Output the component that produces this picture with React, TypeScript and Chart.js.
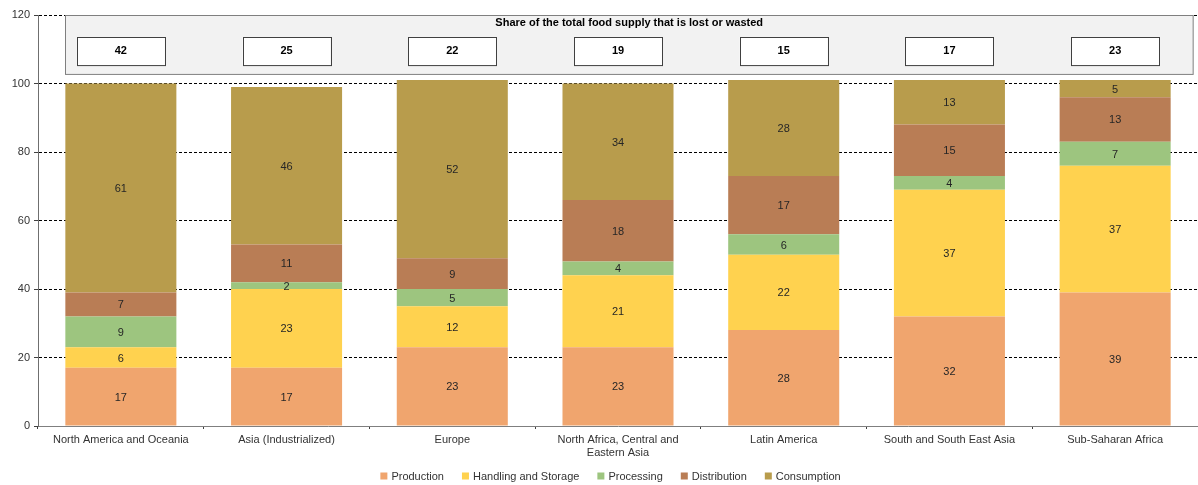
import React, { useEffect, useRef } from "react";
import { Chart, registerables } from "chart.js";

Chart.register(...registerables);

const regions: (string | string[])[] = [
  "North America and Oceania",
  "Asia (Industrialized)",
  "Europe",
  ["North Africa, Central and", "Eastern Asia"],
  "Latin America",
  "South and South East Asia",
  "Sub-Saharan Africa",
];

const production = [17, 17, 23, 23, 28, 32, 39];
const handlingStorage = [6, 23, 12, 21, 22, 37, 37];
const processing = [9, 2, 5, 4, 6, 4, 7];
const distribution = [7, 11, 9, 18, 17, 15, 13];
const consumption = [61, 46, 52, 34, 28, 13, 5];

const shareLost = [42, 25, 22, 19, 15, 17, 23];
const shareTitle = "Share of the total food supply that is lost or wasted";

const FONT = "'Liberation Sans', Arial, sans-serif";

// Values written in the middle of each stacked segment
const segmentLabels = {
  id: "segmentLabels",
  afterDatasetsDraw(chart: any) {
    const ctx = chart.ctx;
    ctx.save();
    ctx.font = `11px ${FONT}`;
    ctx.fillStyle = "#262626";
    ctx.textAlign = "center";
    ctx.textBaseline = "middle";
    chart.data.datasets.forEach((ds: any, di: number) => {
      const meta = chart.getDatasetMeta(di);
      meta.data.forEach((bar: any, i: number) => {
        const v = ds.data[i];
        if (!v) return;
        ctx.fillText(String(v), bar.x, (bar.y + bar.base) / 2 + 1);
      });
    });
    ctx.restore();
  },
};

// Panel above the bars with the share of food supply lost per region
const sharePanel = {
  id: "sharePanel",
  afterDraw(chart: any) {
    const ctx = chart.ctx;
    const x = chart.scales.x;
    const y = chart.scales.y;
    const area = chart.chartArea;
    const first = chart.getDatasetMeta(0).data[0];
    const left = first.x - first.width / 2;
    const right = area.right - 5;
    const top = y.getPixelForValue(120);
    const bottom = y.getPixelForValue(102.8);
    ctx.save();
    ctx.fillStyle = "#F2F2F2";
    ctx.fillRect(left, top, right - left, bottom - top);
    ctx.strokeStyle = "#7F7F7F";
    ctx.lineWidth = 1;
    ctx.strokeRect(Math.round(left) + 0.5, Math.round(top) + 0.5, right - left, bottom - top);

    ctx.font = `bold 11px ${FONT}`;
    ctx.fillStyle = "#000";
    ctx.textAlign = "center";
    ctx.textBaseline = "middle";
    ctx.fillText(shareTitle, (left + right) / 2, top + 8);

    const bTop = y.getPixelForValue(113.6);
    const bBot = y.getPixelForValue(105.4);
    shareLost.forEach((v, i) => {
      const cx = x.getPixelForValue(i);
      const w = 88;
      ctx.fillStyle = "#FFFFFF";
      ctx.fillRect(cx - w / 2, bTop, w, bBot - bTop);
      ctx.strokeStyle = "#404040";
      ctx.strokeRect(Math.round(cx - w / 2) + 0.5, Math.round(bTop) + 0.5, w, bBot - bTop);
      ctx.fillStyle = "#000";
      ctx.fillText(String(v), cx, (bTop + bBot) / 2);
    });
    ctx.restore();
  },
};

// Compact legend under the category labels
const bottomLegend = {
  id: "bottomLegend",
  afterDraw(chart: any) {
    const ctx = chart.ctx;
    const items = chart.data.datasets.map((d: any) => ({
      text: d.label as string,
      color: d.backgroundColor as string,
    }));
    ctx.save();
    ctx.font = `11px ${FONT}`;
    const box = 7;
    const gapText = 4;
    const gapItem = 18;
    const widths = items.map((it: any) => box + gapText + ctx.measureText(it.text).width);
    const total = widths.reduce((a: number, b: number) => a + b, 0) + gapItem * (items.length - 1);
    let xPos = 610.5 - total / 2;
    const yMid = chart.height - 9;
    ctx.textBaseline = "middle";
    ctx.textAlign = "left";
    items.forEach((it: any, i: number) => {
      ctx.fillStyle = it.color;
      ctx.fillRect(xPos, yMid - box / 2, box, box);
      ctx.fillStyle = "#333333";
      ctx.fillText(it.text, xPos + box + gapText, yMid + 0.5);
      xPos += widths[i] + gapItem;
    });
    ctx.restore();
  },
};

export default function App() {
  const canvasRef = useRef<HTMLCanvasElement>(null);

  useEffect(() => {
    document.body.style.margin = "0";
    Chart.defaults.font.family = FONT;
    Chart.defaults.font.size = 11;
    Chart.defaults.color = "#333333";

    const chart = new Chart(canvasRef.current!, {
      type: "bar",
      data: {
        labels: regions,
        datasets: [
          { label: "Production", data: production, backgroundColor: "#F0A56E" },
          { label: "Handling and Storage", data: handlingStorage, backgroundColor: "#FFD24F" },
          { label: "Processing", data: processing, backgroundColor: "#9DC57F" },
          { label: "Distribution", data: distribution, backgroundColor: "#B97D55" },
          { label: "Consumption", data: consumption, backgroundColor: "#B89C4C" },
        ],
      },
      options: {
        animation: false,
        responsive: false,
        maintainAspectRatio: false,
        layout: { padding: { top: 15, right: 0, left: 0, bottom: 0 } },
        datasets: { bar: { categoryPercentage: 0.67, barPercentage: 1 } },
        plugins: {
          legend: { display: false },
          tooltip: { enabled: false },
        },
        scales: {
          x: {
            stacked: true,
            afterFit(scale: any) {
              scale.height = 59;
            },
            grid: {
              offset: true,
              drawOnChartArea: false,
              drawTicks: true,
              tickLength: 3,
              color: "#404040",
            },
            border: { color: "#7F7F7F" },
            ticks: { maxRotation: 0, autoSkip: false, padding: 4, color: "#333333" },
          },
          y: {
            stacked: true,
            min: 0,
            max: 120,
            afterFit(scale: any) {
              scale.width = 38;
            },
            ticks: { stepSize: 20, padding: 4, color: "#333333" },
            grid: {
              color: (c: any) => (c.tick && c.tick.value === 0 ? "rgba(0,0,0,0)" : "#000000"),
              tickColor: "#404040",
              tickLength: 4,
              tickBorderDash: [],
            },
            border: { color: "#6F6F6F", dash: [3, 2] },
          },
        },
      },
      plugins: [segmentLabels, sharePanel, bottomLegend],
    } as any);

    return () => chart.destroy();
  }, []);

  return (
    <div style={{ width: 1198, height: 485 }}>
      <canvas ref={canvasRef} width={1198} height={485} />
    </div>
  );
}
